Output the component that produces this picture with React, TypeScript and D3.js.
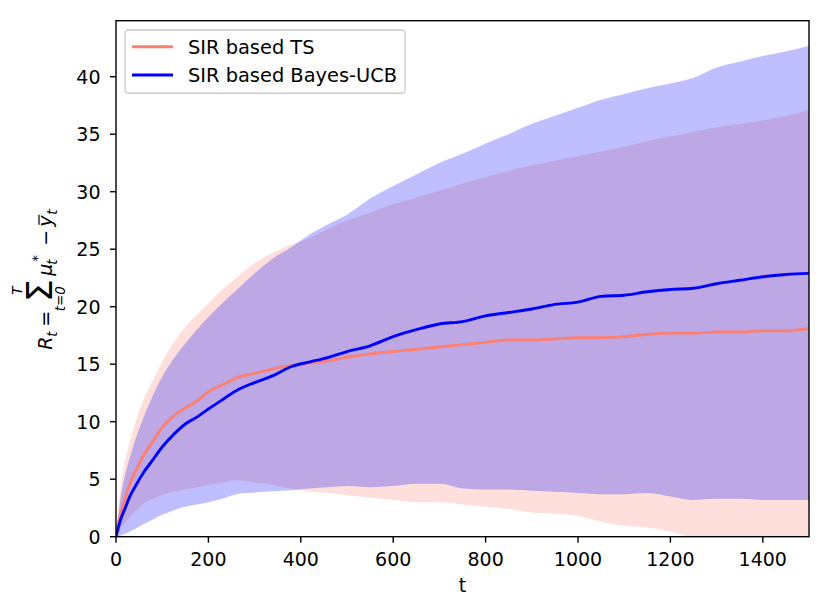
import React, { useEffect, useRef } from "react";
import * as d3 from "d3";

// time steps
const tValues = [
  0, 10, 20, 30, 45, 60, 80, 100, 125, 150, 175, 200, 230, 260, 300, 340, 380,
  420, 460, 500, 550, 600, 650, 700, 750, 800, 850, 900, 950, 1000, 1050, 1100,
  1150, 1200, 1250, 1300, 1350, 1400, 1450, 1500,
];

// SIR based TS
const tsMean = [
  0, 2.0, 3.3, 4.6, 5.9, 7.1, 8.3, 9.5, 10.5, 11.2, 11.8, 12.6, 13.2, 13.8, 14.2,
  14.6, 14.9, 15.1, 15.3, 15.6, 15.9, 16.1, 16.3, 16.5, 16.7, 16.9, 17.1, 17.1,
  17.2, 17.3, 17.3, 17.4, 17.6, 17.7, 17.7, 17.8, 17.8, 17.9, 17.9, 18.1,
];
const tsUpper = [
  0, 4.3, 6.6, 8.3, 10.3, 12.0, 13.6, 15.2, 16.9, 18.2, 19.3, 20.3, 21.5, 22.5,
  23.8, 24.7, 25.4, 26.0, 26.8, 27.5, 28.2, 28.9, 29.5, 30.1, 30.7, 31.3, 31.8,
  32.3, 32.7, 33.1, 33.5, 33.9, 34.4, 34.8, 35.2, 35.6, 35.9, 36.2, 36.6, 37.1,
];
const tsLower = [
  0, 0.7, 1.2, 1.7, 2.3, 2.9, 3.3, 3.6, 3.9, 4.1, 4.3, 4.5, 4.7, 4.9, 4.7, 4.5,
  4.2, 3.9, 3.8, 3.6, 3.4, 3.2, 3.0, 3.0, 2.8, 2.6, 2.4, 2.1, 2.0, 1.8, 1.3, 0.95,
  0.8, 0.45, -0.1, -0.4, -0.6, -0.8, -0.9, -1.0,
];

// SIR based Bayes-UCB
const ucbMean = [
  0, 1.5, 2.5, 3.5, 4.6, 5.6, 6.7, 7.8, 8.9, 9.8, 10.4, 11.1, 11.9, 12.7, 13.4,
  14.0, 14.8, 15.2, 15.6, 16.1, 16.6, 17.4, 18.0, 18.5, 18.7, 19.2, 19.5, 19.8,
  20.2, 20.4, 20.9, 21.0, 21.3, 21.5, 21.6, 22.0, 22.3, 22.6, 22.8, 22.9,
];
const ucbUpper = [
  0, 3.4, 5.4, 6.9, 8.8, 10.4, 12.3, 13.9, 15.5, 16.8, 18.0, 19.1, 20.3, 21.4,
  22.9, 24.2, 25.2, 26.3, 27.2, 28.0, 29.4, 30.5, 31.5, 32.5, 33.3, 34.2, 35.0,
  35.9, 36.6, 37.3, 38.0, 38.5, 39.0, 39.4, 39.9, 40.8, 41.3, 41.8, 42.2, 42.7,
];
const ucbLower = [
  0, 0.1, 0.25, 0.45, 0.75, 1.1, 1.5, 1.9, 2.3, 2.6, 2.8, 3.0, 3.3, 3.7, 3.85,
  3.95, 4.05, 4.2, 4.3, 4.4, 4.3, 4.4, 4.6, 4.6, 4.2, 4.1, 4.1, 4.0, 3.9, 3.8,
  3.7, 3.7, 3.8, 3.5, 3.2, 3.3, 3.3, 3.2, 3.2, 3.2,
];

const xTicks = [0, 200, 400, 600, 800, 1000, 1200, 1400];
const yTicks = [0, 5, 10, 15, 20, 25, 30, 35, 40];

const seriesNames = ["SIR based TS", "SIR based Bayes-UCB"];
const TS_COLOR = "#fa8072";
const UCB_COLOR = "#0000ff";

const FONT = "DejaVu Sans, sans-serif";
const TICK_SIZE = 19;

export default function App() {
  const svgRef = useRef<SVGSVGElement>(null);

  useEffect(() => {
    if (!svgRef.current) return;
    const svg = d3.select(svgRef.current);
    svg.selectAll("*").remove();

    const left = 116,
      right = 809,
      top = 20.7,
      bottom = 536.7;

    const x = d3.scaleLinear().domain([0, 1500]).range([left, right]);
    const y = d3.scaleLinear().domain([0, 44.87]).range([bottom, top]);

    svg
      .append("defs")
      .append("clipPath")
      .attr("id", "plot-clip")
      .append("rect")
      .attr("x", left)
      .attr("y", top)
      .attr("width", right - left)
      .attr("height", bottom - top);

    const plot = svg.append("g").attr("clip-path", "url(#plot-clip)");

    const idx = d3.range(tValues.length);
    const band = (lo: number[], hi: number[]) =>
      d3
        .area<number>()
        .x((i) => x(tValues[i]))
        .y0((i) => y(lo[i]))
        .y1((i) => y(hi[i]))
        .curve(d3.curveMonotoneX)(idx);
    const line = (vals: number[]) =>
      d3
        .line<number>()
        .x((i) => x(tValues[i]))
        .y((i) => y(vals[i]))
        .curve(d3.curveMonotoneX)(idx);

    // confidence bands
    plot
      .append("path")
      .attr("d", band(tsLower, tsUpper))
      .attr("fill", TS_COLOR)
      .attr("fill-opacity", 0.25);
    plot
      .append("path")
      .attr("d", band(ucbLower, ucbUpper))
      .attr("fill", UCB_COLOR)
      .attr("fill-opacity", 0.25);

    // mean lines
    plot
      .append("path")
      .attr("d", line(tsMean))
      .attr("fill", "none")
      .attr("stroke", TS_COLOR)
      .attr("stroke-width", 2.9);
    plot
      .append("path")
      .attr("d", line(ucbMean))
      .attr("fill", "none")
      .attr("stroke", UCB_COLOR)
      .attr("stroke-width", 2.9);

    // frame
    svg
      .append("rect")
      .attr("x", left)
      .attr("y", top)
      .attr("width", right - left)
      .attr("height", bottom - top)
      .attr("fill", "none")
      .attr("stroke", "#000")
      .attr("stroke-width", 1.4);

    // x axis
    const xAxis = svg.append("g");
    xTicks.forEach((t) => {
      xAxis
        .append("line")
        .attr("x1", x(t))
        .attr("x2", x(t))
        .attr("y1", bottom)
        .attr("y2", bottom + 6)
        .attr("stroke", "#000")
        .attr("stroke-width", 1.4);
      xAxis
        .append("text")
        .attr("x", x(t))
        .attr("y", 566)
        .attr("text-anchor", "middle")
        .attr("font-family", FONT)
        .attr("font-size", TICK_SIZE)
        .text(t);
    });
    svg
      .append("text")
      .attr("x", (left + right) / 2)
      .attr("y", 592)
      .attr("text-anchor", "middle")
      .attr("font-family", FONT)
      .attr("font-size", TICK_SIZE)
      .text("t");

    // y axis
    const yAxis = svg.append("g");
    yTicks.forEach((v) => {
      yAxis
        .append("line")
        .attr("x1", left - 6)
        .attr("x2", left)
        .attr("y1", y(v))
        .attr("y2", y(v))
        .attr("stroke", "#000")
        .attr("stroke-width", 1.4);
      yAxis
        .append("text")
        .attr("x", 100.5)
        .attr("y", y(v) + TICK_SIZE * 0.364)
        .attr("text-anchor", "end")
        .attr("font-family", FONT)
        .attr("font-size", TICK_SIZE)
        .text(v);
    });

    // y label: R_t = sum_{t=0}^T mu_t^* - ybar_t  (rotated)
    const lab = svg
      .append("g")
      .attr("transform", `translate(52, ${(top + bottom) / 2}) rotate(-90)`)
      .attr("font-family", FONT)
      .attr("fill", "#000");
    const put = (
      tx: number,
      ty: number,
      s: string,
      size: number,
      italic = false,
      anchor = "start"
    ) =>
      lab
        .append("text")
        .attr("x", tx - 71)
        .attr("y", ty)
        .attr("font-size", size)
        .attr("font-style", italic ? "italic" : "normal")
        .attr("text-anchor", anchor)
        .text(s);
    put(0, 0, "R", 19, true);
    put(13, 4.5, "t", 13.5, true);
    put(23, 0, "=", 19);
    put(59, 0, "\u03a3", 36, false, "middle");
    put(51, 13, "t=0", 13.5, true, "middle");
    put(59, -30, "T", 13.5, true, "middle");
    put(74, 0, "\u03bc", 19, true);
    put(85, 5, "t", 13.5, true);
    put(88, -10, "*", 13.5);
    put(104, 0, "\u2212", 19);
    put(123, 0, "y", 19, true);
    lab
      .append("line")
      .attr("x1", 125 - 71)
      .attr("x2", 135 - 71)
      .attr("y1", -13)
      .attr("y2", -13)
      .attr("stroke", "#000")
      .attr("stroke-width", 1.2);
    put(135, 4.5, "t", 13.5, true);

    // legend
    const leg = svg.append("g");
    leg
      .append("rect")
      .attr("x", 125)
      .attr("y", 30)
      .attr("width", 280)
      .attr("height", 63.3)
      .attr("rx", 3.5)
      .attr("fill", "#fff")
      .attr("fill-opacity", 0.8)
      .attr("stroke", "#cccccc")
      .attr("stroke-width", 1.4);
    const colors = [TS_COLOR, UCB_COLOR];
    seriesNames.forEach((name, i) => {
      const ly = 46.7 + i * 28.3;
      leg
        .append("line")
        .attr("x1", 132)
        .attr("x2", 173)
        .attr("y1", ly)
        .attr("y2", ly)
        .attr("stroke", colors[i])
        .attr("stroke-width", 2.9);
      leg
        .append("text")
        .attr("x", 188)
        .attr("y", ly + 7)
        .attr("font-family", FONT)
        .attr("font-size", 19.4)
        .text(name);
    });
  }, []);

  return (
    <svg
      ref={svgRef}
      width={830}
      height={610}
      style={{ position: "absolute", left: 0, top: 0, background: "#fff" }}
    />
  );
}
